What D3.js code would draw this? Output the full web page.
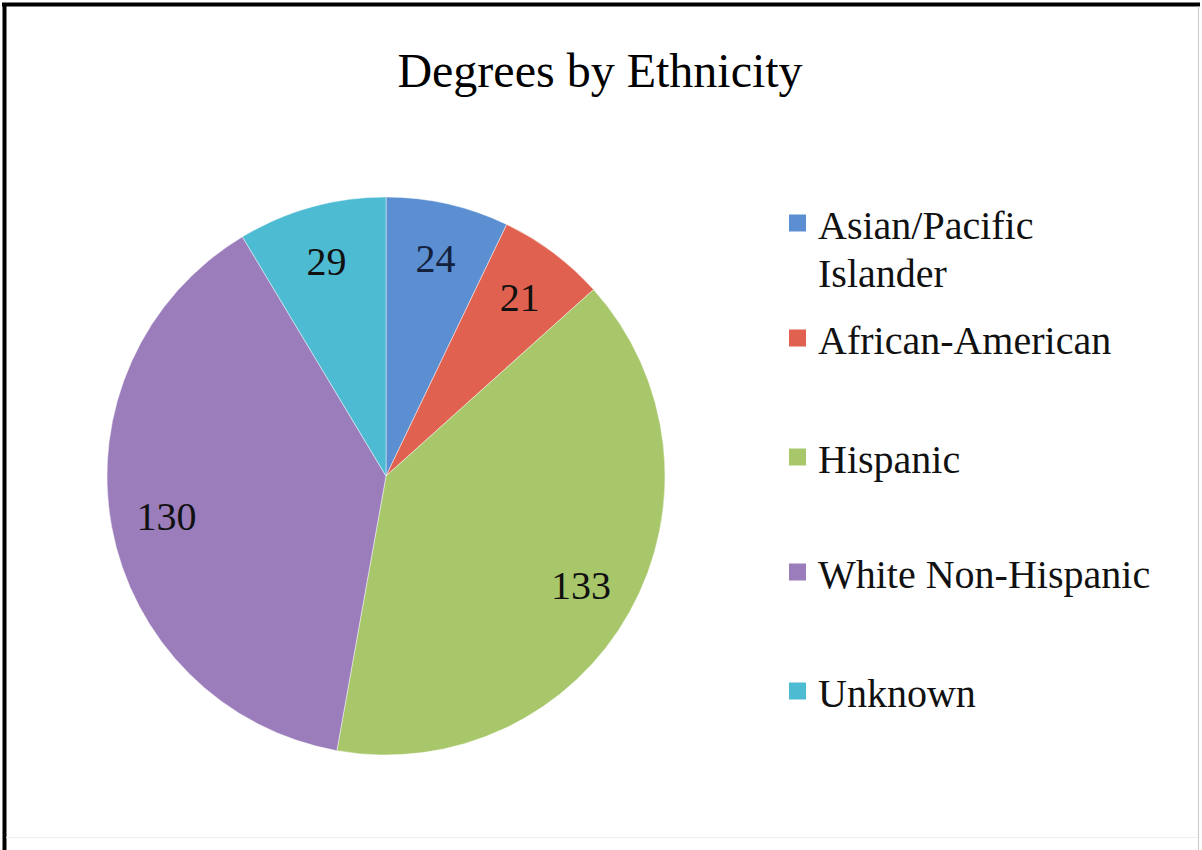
<!DOCTYPE html>
<html>
<head>
<meta charset="utf-8">
<script src="https://cdn.jsdelivr.net/npm/d3@7"></script>
</head>
<body style="margin:0">
<svg id="chart" width="1202" height="850"></svg>
<script>
const categories = ["Asian/Pacific Islander", "African-American", "Hispanic", "White Non-Hispanic", "Unknown"];
const legendLines = [["Asian/Pacific", "Islander"], ["African-American"], ["Hispanic"], ["White Non-Hispanic"], ["Unknown"]];
const values = [24, 21, 133, 130, 29];
const colors = ["#5b8fd2", "#e0614f", "#a7c76a", "#9a7dba", "#4dbbd2"];
const title = "Degrees by Ethnicity";

const FONT = '"Times New Roman", "Liberation Serif", Tinos, serif';
const svg = d3.select("#chart");

// frame
svg.append("line").attr("x1", 2).attr("x2", 1200).attr("y1", 4.5).attr("y2", 4.5).attr("stroke", "#000").attr("stroke-width", 4);
svg.append("line").attr("x1", 4.5).attr("x2", 4.5).attr("y1", 3).attr("y2", 850).attr("stroke", "#000").attr("stroke-width", 4);
svg.append("line").attr("x1", 1198.5).attr("x2", 1198.5).attr("y1", 6).attr("y2", 850).attr("stroke", "#c8c8c8").attr("stroke-width", 1);
svg.append("line").attr("x1", 6).attr("x2", 1198).attr("y1", 837.5).attr("y2", 837.5).attr("stroke", "#eeeeee").attr("stroke-width", 1);

svg.append("text")
  .attr("x", 600).attr("y", 87)
  .attr("text-anchor", "middle")
  .style("font-family", FONT)
  .attr("font-size", 48)
  .text(title);

const cx = 386, cy = 476, r = 279;
const pie = d3.pie().sort(null).value(d => d)(values);
const arc = d3.arc().innerRadius(0).outerRadius(r);
const labelArc = d3.arc().innerRadius(r * 0.8).outerRadius(r * 0.8);

const g = svg.append("g").attr("transform", `translate(${cx},${cy})`);
g.selectAll("path.slice")
  .data(pie)
  .join("path")
  .attr("class", "slice")
  .attr("d", arc)
  .attr("fill", (d, i) => colors[i])
  .attr("stroke", "rgba(255,255,255,0.45)")
  .attr("stroke-width", 1);

g.selectAll("text.lbl")
  .data(pie)
  .join("text")
  .attr("class", "lbl")
  .attr("transform", d => `translate(${labelArc.centroid(d)})`)
  .attr("text-anchor", "middle")
  .attr("dy", "0.35em")
  .style("font-family", FONT)
  .attr("font-size", 40)
  .attr("fill", (d, i) => i === 0 ? "#14213d" : "#111")
  .text(d => d.data);

// legend
const legendBaselines = [239, 354, 473, 588, 707];
const lg = svg.append("g");
categories.forEach((c, i) => {
  const base = legendBaselines[i];
  lg.append("rect")
    .attr("x", 789).attr("y", base - 16 - 8.5)
    .attr("width", 17).attr("height", 17)
    .attr("fill", colors[i]);
  const t = lg.append("text")
    .attr("x", 818).attr("y", base)
    .style("font-family", FONT)
    .attr("font-size", 40)
    .attr("fill", "#111");
  legendLines[i].forEach((line, j) => {
    t.append("tspan").attr("x", 818).attr("dy", j === 0 ? 0 : 48).text(line);
  });
});
</script>
</body>
</html>
